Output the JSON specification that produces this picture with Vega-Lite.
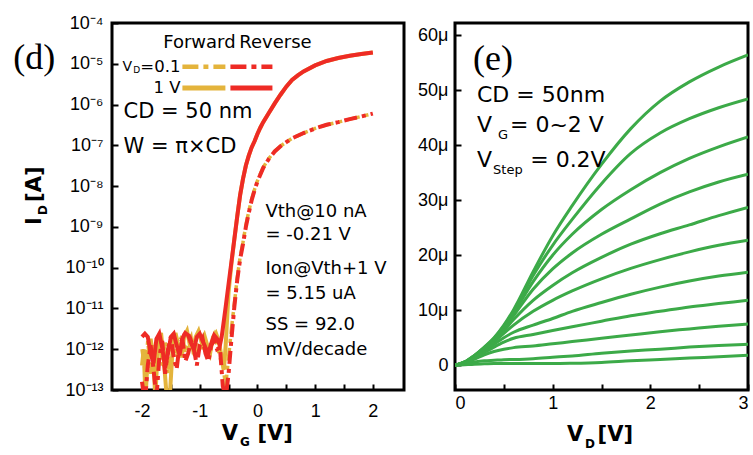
{
  "$schema": "https://vega.github.io/schema/vega-lite/v6.json",
  "padding": {"left": 11, "top": 12, "right": 2, "bottom": 2},
  "background": "white",
  "config": {
    "font": "Liberation Sans",
    "view": {"stroke": "black", "strokeWidth": 3},
    "axis": {"domain": false, "grid": false, "labelFont": "Liberation Sans", "labelFontSize": 18, "labelColor": "black", "tickColor": "black", "tickWidth": 2, "tickSize": -6}
  },
  "spacing": 51,
  "bounds": "flush",
  "datasets": {
    "dcurves": [
      {"s":"fwd01","VG":-2.0,"I":1.0e-12},{"s":"fwd01","VG":-1.95,"I":3.2e-13},{"s":"fwd01","VG":-1.9,"I":1.6e-12},{"s":"fwd01","VG":-1.85,"I":2.5e-13},{"s":"fwd01","VG":-1.8,"I":1.26e-12},{"s":"fwd01","VG":-1.75,"I":5.0e-13},{"s":"fwd01","VG":-1.7,"I":2.0e-12},{"s":"fwd01","VG":-1.65,"I":4.0e-13},{"s":"fwd01","VG":-1.6,"I":1.6e-12},{"s":"fwd01","VG":-1.55,"I":2.5e-13},{"s":"fwd01","VG":-1.5,"I":1.26e-12},{"s":"fwd01","VG":-1.45,"I":2.0e-12},{"s":"fwd01","VG":-1.4,"I":6.3e-13},{"s":"fwd01","VG":-1.35,"I":1.6e-12},{"s":"fwd01","VG":-1.3,"I":2.2e-12},{"s":"fwd01","VG":-1.25,"I":7.9e-13},{"s":"fwd01","VG":-1.2,"I":1.4e-12},{"s":"fwd01","VG":-1.15,"I":2.0e-12},{"s":"fwd01","VG":-1.1,"I":6.3e-13},{"s":"fwd01","VG":-1.05,"I":1.6e-12},{"s":"fwd01","VG":-1.0,"I":2.5e-12},{"s":"fwd01","VG":-0.95,"I":1.0e-12},{"s":"fwd01","VG":-0.9,"I":1.8e-12},{"s":"fwd01","VG":-0.85,"I":7.9e-13},{"s":"fwd01","VG":-0.8,"I":1.4e-12},{"s":"fwd01","VG":-0.75,"I":2.2e-12},{"s":"fwd01","VG":-0.7,"I":1.26e-12},{"s":"fwd01","VG":-0.65,"I":6.3e-13},{"s":"fwd01","VG":-0.6,"I":4.0e-13},{"s":"fwd01","VG":-0.55,"I":1.26e-13},{"s":"fwd01","VG":-0.5,"I":6.3e-13},{"s":"fwd01","VG":-0.45,"I":3.2e-12},{"s":"fwd01","VG":-0.4,"I":1.3e-11},{"s":"fwd01","VG":-0.35,"I":5.6e-11},{"s":"fwd01","VG":-0.3,"I":1.8e-10},{"s":"fwd01","VG":-0.25,"I":4.2e-10},{"s":"fwd01","VG":-0.2,"I":1.1e-9},{"s":"fwd01","VG":-0.15,"I":2.4e-9},{"s":"fwd01","VG":-0.1,"I":4.8e-9},{"s":"fwd01","VG":-0.05,"I":8.3e-9},{"s":"fwd01","VG":0.0,"I":1.35e-8},{"s":"fwd01","VG":0.1,"I":2.9e-8},{"s":"fwd01","VG":0.2,"I":4.8e-8},{"s":"fwd01","VG":0.3,"I":7.2e-8},{"s":"fwd01","VG":0.4,"I":9.6e-8},{"s":"fwd01","VG":0.5,"I":1.2e-7},{"s":"fwd01","VG":0.6,"I":1.48e-7},{"s":"fwd01","VG":0.8,"I":2.0e-7},{"s":"fwd01","VG":1.0,"I":2.6e-7},{"s":"fwd01","VG":1.2,"I":3.2e-7},{"s":"fwd01","VG":1.4,"I":3.7e-7},{"s":"fwd01","VG":1.6,"I":4.4e-7},{"s":"fwd01","VG":1.8,"I":5.1e-7},{"s":"fwd01","VG":2.0,"I":6.0e-7},

      {"s":"fwd1","VG":-2.0,"I":4.0e-13},{"s":"fwd1","VG":-1.97,"I":1.0e-12},{"s":"fwd1","VG":-1.94,"I":6.3e-14},{"s":"fwd1","VG":-1.9,"I":6.3e-13},{"s":"fwd1","VG":-1.85,"I":1.8e-12},{"s":"fwd1","VG":-1.8,"I":5.0e-13},{"s":"fwd1","VG":-1.77,"I":6.3e-14},{"s":"fwd1","VG":-1.72,"I":1.6e-12},{"s":"fwd1","VG":-1.67,"I":2.5e-12},{"s":"fwd1","VG":-1.62,"I":5.0e-13},{"s":"fwd1","VG":-1.57,"I":6.3e-14},{"s":"fwd1","VG":-1.52,"I":6.3e-14},{"s":"fwd1","VG":-1.47,"I":1.0e-12},{"s":"fwd1","VG":-1.42,"I":2.5e-12},{"s":"fwd1","VG":-1.37,"I":1.26e-12},{"s":"fwd1","VG":-1.32,"I":6.3e-13},{"s":"fwd1","VG":-1.27,"I":2.0e-12},{"s":"fwd1","VG":-1.22,"I":2.8e-12},{"s":"fwd1","VG":-1.17,"I":1.26e-12},{"s":"fwd1","VG":-1.12,"I":1.0e-12},{"s":"fwd1","VG":-1.07,"I":2.0e-12},{"s":"fwd1","VG":-1.02,"I":2.8e-12},{"s":"fwd1","VG":-0.97,"I":1.6e-12},{"s":"fwd1","VG":-0.92,"I":2.2e-12},{"s":"fwd1","VG":-0.87,"I":1.26e-12},{"s":"fwd1","VG":-0.82,"I":7.9e-13},{"s":"fwd1","VG":-0.77,"I":2.0e-12},{"s":"fwd1","VG":-0.72,"I":2.5e-12},{"s":"fwd1","VG":-0.67,"I":1.6e-12},{"s":"fwd1","VG":-0.62,"I":6.3e-13},{"s":"fwd1","VG":-0.58,"I":3.2e-13},{"s":"fwd1","VG":-0.55,"I":1.26e-12},{"s":"fwd1","VG":-0.5,"I":2.5e-11},{"s":"fwd1","VG":-0.45,"I":1.26e-10},{"s":"fwd1","VG":-0.4,"I":5.0e-10},{"s":"fwd1","VG":-0.35,"I":1.8e-9},{"s":"fwd1","VG":-0.3,"I":6.0e-9},{"s":"fwd1","VG":-0.25,"I":1.5e-8},{"s":"fwd1","VG":-0.2,"I":3.2e-8},{"s":"fwd1","VG":-0.15,"I":5.6e-8},{"s":"fwd1","VG":-0.1,"I":8.9e-8},{"s":"fwd1","VG":-0.05,"I":1.26e-7},{"s":"fwd1","VG":0.0,"I":1.9e-7},{"s":"fwd1","VG":0.05,"I":2.7e-7},{"s":"fwd1","VG":0.1,"I":3.7e-7},{"s":"fwd1","VG":0.2,"I":6.3e-7},{"s":"fwd1","VG":0.3,"I":1.07e-6},{"s":"fwd1","VG":0.4,"I":1.74e-6},{"s":"fwd1","VG":0.5,"I":2.75e-6},{"s":"fwd1","VG":0.6,"I":4.0e-6},{"s":"fwd1","VG":0.7,"I":5.2e-6},{"s":"fwd1","VG":0.8,"I":6.5e-6},{"s":"fwd1","VG":1.0,"I":9.1e-6},{"s":"fwd1","VG":1.2,"I":1.17e-5},{"s":"fwd1","VG":1.4,"I":1.38e-5},{"s":"fwd1","VG":1.6,"I":1.58e-5},{"s":"fwd1","VG":1.8,"I":1.74e-5},{"s":"fwd1","VG":2.0,"I":1.9e-5},

      {"s":"rev01","VG":-2.0,"I":1.6e-13},{"s":"rev01","VG":-1.95,"I":5.0e-14},{"s":"rev01","VG":-1.9,"I":4.0e-13},{"s":"rev01","VG":-1.85,"I":1.26e-12},{"s":"rev01","VG":-1.8,"I":3.2e-13},{"s":"rev01","VG":-1.75,"I":6.3e-14},{"s":"rev01","VG":-1.7,"I":6.3e-13},{"s":"rev01","VG":-1.65,"I":1.6e-12},{"s":"rev01","VG":-1.6,"I":2.5e-13},{"s":"rev01","VG":-1.55,"I":1.0e-12},{"s":"rev01","VG":-1.5,"I":2.0e-12},{"s":"rev01","VG":-1.45,"I":6.3e-13},{"s":"rev01","VG":-1.4,"I":3.2e-13},{"s":"rev01","VG":-1.35,"I":1.26e-12},{"s":"rev01","VG":-1.3,"I":1.8e-12},{"s":"rev01","VG":-1.25,"I":5.0e-13},{"s":"rev01","VG":-1.2,"I":7.9e-13},{"s":"rev01","VG":-1.15,"I":1.6e-12},{"s":"rev01","VG":-1.1,"I":1.0e-12},{"s":"rev01","VG":-1.05,"I":4.0e-13},{"s":"rev01","VG":-1.0,"I":1.26e-12},{"s":"rev01","VG":-0.95,"I":1.8e-12},{"s":"rev01","VG":-0.9,"I":7.9e-13},{"s":"rev01","VG":-0.85,"I":5.0e-13},{"s":"rev01","VG":-0.8,"I":1.26e-12},{"s":"rev01","VG":-0.75,"I":1.6e-12},{"s":"rev01","VG":-0.7,"I":1.0e-12},{"s":"rev01","VG":-0.65,"I":1.1e-12},{"s":"rev01","VG":-0.6,"I":1.26e-13},{"s":"rev01","VG":-0.55,"I":6.3e-14},{"s":"rev01","VG":-0.5,"I":2.5e-13},{"s":"rev01","VG":-0.45,"I":1.8e-12},{"s":"rev01","VG":-0.4,"I":1.1e-11},{"s":"rev01","VG":-0.35,"I":5.0e-11},{"s":"rev01","VG":-0.3,"I":1.6e-10},{"s":"rev01","VG":-0.25,"I":3.8e-10},{"s":"rev01","VG":-0.2,"I":1.0e-9},{"s":"rev01","VG":-0.15,"I":2.2e-9},{"s":"rev01","VG":-0.1,"I":4.5e-9},{"s":"rev01","VG":-0.05,"I":7.9e-9},{"s":"rev01","VG":0.0,"I":1.3e-8},{"s":"rev01","VG":0.1,"I":2.8e-8},{"s":"rev01","VG":0.2,"I":4.7e-8},{"s":"rev01","VG":0.3,"I":7.1e-8},{"s":"rev01","VG":0.4,"I":9.5e-8},{"s":"rev01","VG":0.5,"I":1.2e-7},{"s":"rev01","VG":0.6,"I":1.48e-7},{"s":"rev01","VG":0.8,"I":2.0e-7},{"s":"rev01","VG":1.0,"I":2.6e-7},{"s":"rev01","VG":1.2,"I":3.2e-7},{"s":"rev01","VG":1.4,"I":3.7e-7},{"s":"rev01","VG":1.6,"I":4.4e-7},{"s":"rev01","VG":1.8,"I":5.1e-7},{"s":"rev01","VG":2.0,"I":6.0e-7},

      {"s":"rev1","VG":-2.0,"I":2.0e-12},{"s":"rev1","VG":-1.95,"I":2.4e-12},{"s":"rev1","VG":-1.9,"I":2.0e-12},{"s":"rev1","VG":-1.85,"I":7.9e-13},{"s":"rev1","VG":-1.8,"I":4.5e-13},{"s":"rev1","VG":-1.75,"I":1.8e-12},{"s":"rev1","VG":-1.7,"I":2.4e-12},{"s":"rev1","VG":-1.65,"I":1.1e-12},{"s":"rev1","VG":-1.6,"I":3.5e-13},{"s":"rev1","VG":-1.55,"I":7.9e-13},{"s":"rev1","VG":-1.5,"I":2.0e-12},{"s":"rev1","VG":-1.45,"I":2.4e-12},{"s":"rev1","VG":-1.4,"I":1.26e-12},{"s":"rev1","VG":-1.35,"I":7.1e-13},{"s":"rev1","VG":-1.3,"I":1.8e-12},{"s":"rev1","VG":-1.25,"I":2.5e-12},{"s":"rev1","VG":-1.2,"I":2.2e-12},{"s":"rev1","VG":-1.15,"I":1.4e-12},{"s":"rev1","VG":-1.1,"I":1.0e-12},{"s":"rev1","VG":-1.05,"I":2.0e-12},{"s":"rev1","VG":-1.0,"I":2.4e-12},{"s":"rev1","VG":-0.95,"I":1.6e-12},{"s":"rev1","VG":-0.9,"I":1.1e-12},{"s":"rev1","VG":-0.85,"I":7.9e-13},{"s":"rev1","VG":-0.8,"I":1.4e-12},{"s":"rev1","VG":-0.75,"I":2.2e-12},{"s":"rev1","VG":-0.7,"I":1.8e-12},{"s":"rev1","VG":-0.65,"I":1.26e-12},{"s":"rev1","VG":-0.62,"I":2.0e-12},{"s":"rev1","VG":-0.6,"I":3.2e-12},{"s":"rev1","VG":-0.55,"I":1.1e-11},{"s":"rev1","VG":-0.5,"I":4.0e-11},{"s":"rev1","VG":-0.45,"I":1.4e-10},{"s":"rev1","VG":-0.4,"I":5.0e-10},{"s":"rev1","VG":-0.35,"I":1.8e-9},{"s":"rev1","VG":-0.3,"I":6.0e-9},{"s":"rev1","VG":-0.25,"I":1.5e-8},{"s":"rev1","VG":-0.2,"I":3.2e-8},{"s":"rev1","VG":-0.15,"I":5.6e-8},{"s":"rev1","VG":-0.1,"I":8.9e-8},{"s":"rev1","VG":-0.05,"I":1.26e-7},{"s":"rev1","VG":0.0,"I":1.9e-7},{"s":"rev1","VG":0.05,"I":2.7e-7},{"s":"rev1","VG":0.1,"I":3.7e-7},{"s":"rev1","VG":0.2,"I":6.3e-7},{"s":"rev1","VG":0.3,"I":1.07e-6},{"s":"rev1","VG":0.4,"I":1.74e-6},{"s":"rev1","VG":0.5,"I":2.75e-6},{"s":"rev1","VG":0.6,"I":4.0e-6},{"s":"rev1","VG":0.7,"I":5.2e-6},{"s":"rev1","VG":0.8,"I":6.5e-6},{"s":"rev1","VG":1.0,"I":9.1e-6},{"s":"rev1","VG":1.2,"I":1.17e-5},{"s":"rev1","VG":1.4,"I":1.38e-5},{"s":"rev1","VG":1.6,"I":1.58e-5},{"s":"rev1","VG":1.8,"I":1.74e-5},{"s":"rev1","VG":2.0,"I":1.9e-5}
    ],
    "ecurves": [
      {"VG":2.0,"VD":0,"ID":0},{"VG":2.0,"VD":0.1,"ID":0.6},{"VG":2.0,"VD":0.2,"ID":1.8},{"VG":2.0,"VD":0.3,"ID":3.3},{"VG":2.0,"VD":0.4,"ID":5.0},{"VG":2.0,"VD":0.5,"ID":7.3},{"VG":2.0,"VD":0.6,"ID":10.1},{"VG":2.0,"VD":0.8,"ID":17.0},{"VG":2.0,"VD":1.0,"ID":23.5},{"VG":2.0,"VD":1.2,"ID":29.0},{"VG":2.0,"VD":1.5,"ID":36.5},{"VG":2.0,"VD":1.8,"ID":43.0},{"VG":2.0,"VD":2.1,"ID":48.0},{"VG":2.0,"VD":2.4,"ID":51.5},{"VG":2.0,"VD":2.7,"ID":54.2},{"VG":2.0,"VD":3.0,"ID":56.4},
      {"VG":1.8,"VD":0,"ID":0},{"VG":1.8,"VD":0.1,"ID":0.6},{"VG":1.8,"VD":0.2,"ID":1.8},{"VG":1.8,"VD":0.3,"ID":3.2},{"VG":1.8,"VD":0.4,"ID":4.9},{"VG":1.8,"VD":0.5,"ID":7.1},{"VG":1.8,"VD":0.6,"ID":9.8},{"VG":1.8,"VD":0.8,"ID":16.3},{"VG":1.8,"VD":1.0,"ID":21.8},{"VG":1.8,"VD":1.2,"ID":26.5},{"VG":1.8,"VD":1.5,"ID":33.0},{"VG":1.8,"VD":1.8,"ID":38.5},{"VG":1.8,"VD":2.1,"ID":42.2},{"VG":1.8,"VD":2.4,"ID":44.8},{"VG":1.8,"VD":2.7,"ID":46.8},{"VG":1.8,"VD":3.0,"ID":48.4},
      {"VG":1.6,"VD":0,"ID":0},{"VG":1.6,"VD":0.1,"ID":0.6},{"VG":1.6,"VD":0.2,"ID":1.75},{"VG":1.6,"VD":0.3,"ID":3.2},{"VG":1.6,"VD":0.4,"ID":4.8},{"VG":1.6,"VD":0.5,"ID":6.9},{"VG":1.6,"VD":0.6,"ID":9.5},{"VG":1.6,"VD":0.8,"ID":15.2},{"VG":1.6,"VD":1.0,"ID":20.0},{"VG":1.6,"VD":1.2,"ID":23.8},{"VG":1.6,"VD":1.5,"ID":28.3},{"VG":1.6,"VD":1.8,"ID":31.9},{"VG":1.6,"VD":2.1,"ID":35.0},{"VG":1.6,"VD":2.4,"ID":37.6},{"VG":1.6,"VD":2.7,"ID":39.7},{"VG":1.6,"VD":3.0,"ID":41.5},
      {"VG":1.4,"VD":0,"ID":0},{"VG":1.4,"VD":0.1,"ID":0.55},{"VG":1.4,"VD":0.2,"ID":1.7},{"VG":1.4,"VD":0.3,"ID":3.1},{"VG":1.4,"VD":0.4,"ID":4.7},{"VG":1.4,"VD":0.5,"ID":6.6},{"VG":1.4,"VD":0.6,"ID":9.0},{"VG":1.4,"VD":0.8,"ID":13.8},{"VG":1.4,"VD":1.0,"ID":17.5},{"VG":1.4,"VD":1.2,"ID":20.4},{"VG":1.4,"VD":1.5,"ID":23.8},{"VG":1.4,"VD":1.8,"ID":26.6},{"VG":1.4,"VD":2.1,"ID":29.3},{"VG":1.4,"VD":2.4,"ID":31.5},{"VG":1.4,"VD":2.7,"ID":33.3},{"VG":1.4,"VD":3.0,"ID":34.7},
      {"VG":1.2,"VD":0,"ID":0},{"VG":1.2,"VD":0.1,"ID":0.55},{"VG":1.2,"VD":0.2,"ID":1.6},{"VG":1.2,"VD":0.3,"ID":3.0},{"VG":1.2,"VD":0.4,"ID":4.5},{"VG":1.2,"VD":0.5,"ID":6.3},{"VG":1.2,"VD":0.6,"ID":8.3},{"VG":1.2,"VD":0.8,"ID":11.8},{"VG":1.2,"VD":1.0,"ID":14.5},{"VG":1.2,"VD":1.2,"ID":16.8},{"VG":1.2,"VD":1.5,"ID":19.6},{"VG":1.2,"VD":1.8,"ID":22.0},{"VG":1.2,"VD":2.1,"ID":23.9},{"VG":1.2,"VD":2.4,"ID":25.5},{"VG":1.2,"VD":2.7,"ID":27.2},{"VG":1.2,"VD":3.0,"ID":28.7},
      {"VG":1.0,"VD":0,"ID":0},{"VG":1.0,"VD":0.1,"ID":0.5},{"VG":1.0,"VD":0.2,"ID":1.5},{"VG":1.0,"VD":0.3,"ID":2.8},{"VG":1.0,"VD":0.4,"ID":4.2},{"VG":1.0,"VD":0.5,"ID":5.8},{"VG":1.0,"VD":0.6,"ID":7.3},{"VG":1.0,"VD":0.8,"ID":9.8},{"VG":1.0,"VD":1.0,"ID":11.8},{"VG":1.0,"VD":1.2,"ID":13.5},{"VG":1.0,"VD":1.5,"ID":15.7},{"VG":1.0,"VD":1.8,"ID":17.6},{"VG":1.0,"VD":2.1,"ID":19.2},{"VG":1.0,"VD":2.4,"ID":20.6},{"VG":1.0,"VD":2.7,"ID":21.8},{"VG":1.0,"VD":3.0,"ID":22.7},
      {"VG":0.8,"VD":0,"ID":0},{"VG":0.8,"VD":0.1,"ID":0.5},{"VG":0.8,"VD":0.2,"ID":1.4},{"VG":0.8,"VD":0.3,"ID":2.6},{"VG":0.8,"VD":0.4,"ID":3.8},{"VG":0.8,"VD":0.5,"ID":5.0},{"VG":0.8,"VD":0.6,"ID":6.0},{"VG":0.8,"VD":0.8,"ID":7.3},{"VG":0.8,"VD":1.0,"ID":8.5},{"VG":0.8,"VD":1.2,"ID":9.8},{"VG":0.8,"VD":1.5,"ID":11.4},{"VG":0.8,"VD":1.8,"ID":12.9},{"VG":0.8,"VD":2.1,"ID":14.2},{"VG":0.8,"VD":2.4,"ID":15.3},{"VG":0.8,"VD":2.7,"ID":16.2},{"VG":0.8,"VD":3.0,"ID":16.9},
      {"VG":0.6,"VD":0,"ID":0},{"VG":0.6,"VD":0.1,"ID":0.45},{"VG":0.6,"VD":0.2,"ID":1.3},{"VG":0.6,"VD":0.3,"ID":2.3},{"VG":0.6,"VD":0.4,"ID":3.3},{"VG":0.6,"VD":0.5,"ID":4.2},{"VG":0.6,"VD":0.6,"ID":4.9},{"VG":0.6,"VD":0.8,"ID":5.6},{"VG":0.6,"VD":1.0,"ID":6.3},{"VG":0.6,"VD":1.2,"ID":7.0},{"VG":0.6,"VD":1.5,"ID":8.0},{"VG":0.6,"VD":1.8,"ID":9.0},{"VG":0.6,"VD":2.1,"ID":9.8},{"VG":0.6,"VD":2.4,"ID":10.6},{"VG":0.6,"VD":2.7,"ID":11.2},{"VG":0.6,"VD":3.0,"ID":11.8},
      {"VG":0.4,"VD":0,"ID":0},{"VG":0.4,"VD":0.1,"ID":0.4},{"VG":0.4,"VD":0.2,"ID":1.1},{"VG":0.4,"VD":0.3,"ID":1.9},{"VG":0.4,"VD":0.4,"ID":2.5},{"VG":0.4,"VD":0.5,"ID":2.9},{"VG":0.4,"VD":0.6,"ID":3.2},{"VG":0.4,"VD":0.8,"ID":3.5},{"VG":0.4,"VD":1.0,"ID":3.9},{"VG":0.4,"VD":1.2,"ID":4.3},{"VG":0.4,"VD":1.5,"ID":4.9},{"VG":0.4,"VD":1.8,"ID":5.5},{"VG":0.4,"VD":2.1,"ID":6.1},{"VG":0.4,"VD":2.4,"ID":6.6},{"VG":0.4,"VD":2.7,"ID":7.1},{"VG":0.4,"VD":3.0,"ID":7.5},
      {"VG":0.2,"VD":0,"ID":0},{"VG":0.2,"VD":0.1,"ID":0.3},{"VG":0.2,"VD":0.2,"ID":0.6},{"VG":0.2,"VD":0.3,"ID":0.8},{"VG":0.2,"VD":0.4,"ID":0.9},{"VG":0.2,"VD":0.5,"ID":1.0},{"VG":0.2,"VD":0.6,"ID":1.05},{"VG":0.2,"VD":0.8,"ID":1.2},{"VG":0.2,"VD":1.0,"ID":1.45},{"VG":0.2,"VD":1.2,"ID":1.7},{"VG":0.2,"VD":1.5,"ID":2.2},{"VG":0.2,"VD":1.8,"ID":2.6},{"VG":0.2,"VD":2.1,"ID":2.9},{"VG":0.2,"VD":2.4,"ID":3.3},{"VG":0.2,"VD":2.7,"ID":3.6},{"VG":0.2,"VD":3.0,"ID":3.8},
      {"VG":0.0,"VD":0,"ID":0},{"VG":0.0,"VD":0.1,"ID":0.1},{"VG":0.0,"VD":0.2,"ID":0.2},{"VG":0.0,"VD":0.3,"ID":0.25},{"VG":0.0,"VD":0.4,"ID":0.3},{"VG":0.0,"VD":0.5,"ID":0.3},{"VG":0.0,"VD":0.6,"ID":0.3},{"VG":0.0,"VD":0.8,"ID":0.3},{"VG":0.0,"VD":1.0,"ID":0.3},{"VG":0.0,"VD":1.2,"ID":0.35},{"VG":0.0,"VD":1.5,"ID":0.5},{"VG":0.0,"VD":1.8,"ID":0.8},{"VG":0.0,"VD":2.1,"ID":1.05},{"VG":0.0,"VD":2.4,"ID":1.3},{"VG":0.0,"VD":2.7,"ID":1.55},{"VG":0.0,"VD":3.0,"ID":1.8}
    ]
  },
  "hconcat": [
    {
      "width": 292,
      "height": 367,
      "encoding": {
        "x": {"field": "VG", "type": "quantitative", "scale": {"domain": [-2.52, 2.54], "nice": false, "zero": false},
              "axis": {"title": null, "values": [-2, -1.5, -1, -0.5, 0, 0.5, 1, 1.5, 2], "labelExpr": "datum.value % 1 === 0 ? toString(datum.value) : ''", "labelPadding": 18}},
        "y": {"field": "I", "type": "quantitative", "scale": {"type": "log", "domain": [1e-13, 1e-4], "nice": false},
              "axis": {"title": null, "values": [1e-13, 1e-12, 1e-11, 1e-10, 1e-9, 1e-8, 1e-7, 1e-6, 1e-5, 1e-4], "labelExpr": "'10' + ['⁻¹³','⁻¹²','⁻¹¹','⁻¹⁰','⁻⁹','⁻⁸','⁻⁷','⁻⁶','⁻⁵','⁻⁴'][round(log(datum.value)/LN10) + 13]", "labelPadding": 15}}
      },
      "layer": [
        {"data": {"name": "dcurves"}, "transform": [{"filter": "datum.s === 'fwd01'"}], "mark": {"type": "line", "color": "#E4B43C", "strokeWidth": 3.5, "strokeDash": [13, 5, 4, 5], "clip": true}},
        {"data": {"name": "dcurves"}, "transform": [{"filter": "datum.s === 'fwd1'"}], "mark": {"type": "line", "color": "#E4B43C", "strokeWidth": 4, "clip": true}},
        {"data": {"name": "dcurves"}, "transform": [{"filter": "datum.s === 'rev01'"}], "mark": {"type": "line", "color": "#EE2B25", "strokeWidth": 4, "strokeDash": [13, 5, 4, 5], "strokeDashOffset": 3, "clip": true}},
        {"data": {"name": "dcurves"}, "transform": [{"filter": "datum.s === 'rev1'"}], "mark": {"type": "line", "color": "#EE2B25", "strokeWidth": 4, "clip": true}},
        {"data": {"values": [{"VG": -1.30, "VG2": -0.555, "I": 8.5e-6}]}, "mark": {"type": "rule", "color": "#E4B43C", "strokeWidth": 4.5, "strokeDash": [16, 5, 5, 5]}, "encoding": {"x2": {"field": "VG2"}}},
        {"data": {"values": [{"VG": -0.468, "VG2": 0.26, "I": 8.5e-6}]}, "mark": {"type": "rule", "color": "#EE2B25", "strokeWidth": 4.5, "strokeDash": [16, 5, 5, 5]}, "encoding": {"x2": {"field": "VG2"}}},
        {"data": {"values": [{"VG": -1.30, "VG2": -0.555, "I": 2.55e-6}]}, "mark": {"type": "rule", "color": "#E4B43C", "strokeWidth": 5}, "encoding": {"x2": {"field": "VG2"}}},
        {"data": {"values": [{"VG": -0.468, "VG2": 0.26, "I": 2.55e-6}]}, "mark": {"type": "rule", "color": "#EE2B25", "strokeWidth": 5}, "encoding": {"x2": {"field": "VG2"}}},
        {"data": {"values": [{"label": "(d)", "VG": -4.23, "I": 1.4e-5}]}, "mark": {"type": "text", "font": "Liberation Serif", "fontSize": 36, "align": "left", "baseline": "middle", "color": "black"}, "encoding": {"text": {"field": "label"}}},
        {"data": {"values": [{"label": "CD = 50 nm", "VG": -2.32, "I": 6.6e-7}, {"label": "W = π×CD", "VG": -2.32, "I": 9.1e-8}]}, "mark": {"type": "text", "font": "DejaVu Sans", "fontSize": 21, "align": "left", "baseline": "middle", "color": "black"}, "encoding": {"text": {"field": "label"}}},
        {"data": {"values": [{"label": "Vth@10 nA", "VG": 0.14, "I": 2.3e-9}, {"label": "= -0.21 V", "VG": 0.14, "I": 6.3e-10}, {"label": "Ion@Vth+1 V", "VG": 0.14, "I": 9.3e-11}, {"label": "= 5.15 uA", "VG": 0.14, "I": 2.26e-11}, {"label": "SS = 92.0", "VG": 0.14, "I": 3.9e-12}, {"label": "mV/decade", "VG": 0.14, "I": 9.5e-13}]}, "mark": {"type": "text", "font": "DejaVu Sans", "fontSize": 18, "align": "left", "baseline": "middle", "color": "black"}, "encoding": {"text": {"field": "label"}}},
        {"data": {"values": [{"label": "Forward", "VG": -1.005, "I": 3.2e-5}, {"label": "Reverse", "VG": 0.312, "I": 3.2e-5}]}, "mark": {"type": "text", "font": "DejaVu Sans", "fontSize": 18, "align": "center", "baseline": "middle", "color": "black"}, "encoding": {"text": {"field": "label"}}},
        {"data": {"values": [{"label": "V", "VG": -2.34, "I": 8.3e-6}]}, "mark": {"type": "text", "font": "DejaVu Sans", "fontSize": 14, "align": "left", "baseline": "middle", "color": "black"}, "encoding": {"text": {"field": "label"}}},
        {"data": {"values": [{"label": "D", "VG": -2.15, "I": 6.9e-6}]}, "mark": {"type": "text", "font": "DejaVu Sans", "fontSize": 9, "align": "left", "baseline": "middle", "color": "black"}, "encoding": {"text": {"field": "label"}}},
        {"data": {"values": [{"label": "=0.1", "VG": -1.334, "I": 8.3e-6}, {"label": "1 V", "VG": -1.334, "I": 2.6e-6}]}, "mark": {"type": "text", "font": "DejaVu Sans", "fontSize": 16.5, "align": "right", "baseline": "middle", "color": "black"}, "encoding": {"text": {"field": "label"}}},
        {"data": {"values": [{"label": "V", "VG": -0.62, "I": 8.3e-15}, {"label": "[V]", "VG": 0.0, "I": 8.3e-15}]}, "mark": {"type": "text", "font": "DejaVu Sans", "fontWeight": "bold", "fontSize": 21, "align": "left", "baseline": "middle", "color": "black"}, "encoding": {"text": {"field": "label"}}},
        {"data": {"values": [{"label": "G", "VG": -0.3, "I": 5.2e-15}]}, "mark": {"type": "text", "font": "DejaVu Sans", "fontWeight": "bold", "fontSize": 12, "align": "left", "baseline": "middle", "color": "black"}, "encoding": {"text": {"field": "label"}}},
        {"data": {"values": [{"label": "I", "VG": -3.85, "I": 1.11e-9}, {"label": "[A]", "VG": -3.85, "I": 4.1e-9}]}, "mark": {"type": "text", "font": "DejaVu Sans", "fontWeight": "bold", "fontSize": 21, "angle": 270, "align": "left", "baseline": "middle", "color": "black"}, "encoding": {"text": {"field": "label"}}},
        {"data": {"values": [{"label": "D", "VG": -3.72, "I": 1.95e-9}]}, "mark": {"type": "text", "font": "DejaVu Sans", "fontWeight": "bold", "fontSize": 12, "angle": 270, "align": "left", "baseline": "middle", "color": "black"}, "encoding": {"text": {"field": "label"}}}
      ]
    },
    {
      "width": 293,
      "height": 367,
      "encoding": {
        "x": {"field": "VD", "type": "quantitative", "scale": {"domain": [0, 3], "nice": false},
              "axis": {"title": null, "values": [0, 0.5, 1, 1.5, 2, 2.5, 3], "labelExpr": "datum.value % 1 === 0 ? toString(datum.value) : ''", "labelPadding": 10}},
        "y": {"field": "ID", "type": "quantitative", "scale": {"domain": [-4.5, 62.2], "nice": false, "zero": false},
              "axis": {"title": null, "values": [0, 10, 20, 30, 40, 50, 60], "labelExpr": "datum.value === 0 ? '0' : toString(datum.value) + 'μ'", "labelPadding": 13}}
      },
      "layer": [
        {"data": {"name": "ecurves"}, "mark": {"type": "line", "color": "#3CAA48", "strokeWidth": 3, "interpolate": "monotone", "clip": true}, "encoding": {"detail": {"field": "VG", "type": "nominal"}}},
        {"data": {"values": [{"label": "(e)", "VD": 0.184, "ID": 55.6}]}, "mark": {"type": "text", "font": "Liberation Serif", "fontSize": 36, "align": "left", "baseline": "middle", "color": "black"}, "encoding": {"text": {"field": "label"}}},
        {"data": {"values": [{"label": "CD = 50nm", "VD": 0.225, "ID": 49.1}, {"label": "V", "VD": 0.225, "ID": 43.6}, {"label": "= 0~2 V", "VD": 0.563, "ID": 43.6}, {"label": "V", "VD": 0.225, "ID": 37.3}, {"label": "= 0.2V", "VD": 0.77, "ID": 37.3}]}, "mark": {"type": "text", "font": "DejaVu Sans", "fontSize": 22, "align": "left", "baseline": "middle", "color": "black"}, "encoding": {"text": {"field": "label"}}},
        {"data": {"values": [{"label": "G", "VD": 0.44, "ID": 41.8}, {"label": "Step", "VD": 0.39, "ID": 35.5}]}, "mark": {"type": "text", "font": "DejaVu Sans", "fontSize": 13, "align": "left", "baseline": "middle", "color": "black"}, "encoding": {"text": {"field": "label"}}},
        {"data": {"values": [{"label": "V", "VD": 1.147, "ID": -12.7}, {"label": "[V]", "VD": 1.46, "ID": -12.7}]}, "mark": {"type": "text", "font": "DejaVu Sans", "fontWeight": "bold", "fontSize": 21, "align": "left", "baseline": "middle", "color": "black"}, "encoding": {"text": {"field": "label"}}},
        {"data": {"values": [{"label": "D", "VD": 1.33, "ID": -14.4}]}, "mark": {"type": "text", "font": "DejaVu Sans", "fontWeight": "bold", "fontSize": 12, "align": "left", "baseline": "middle", "color": "black"}, "encoding": {"text": {"field": "label"}}}
      ]
    }
  ]
}
